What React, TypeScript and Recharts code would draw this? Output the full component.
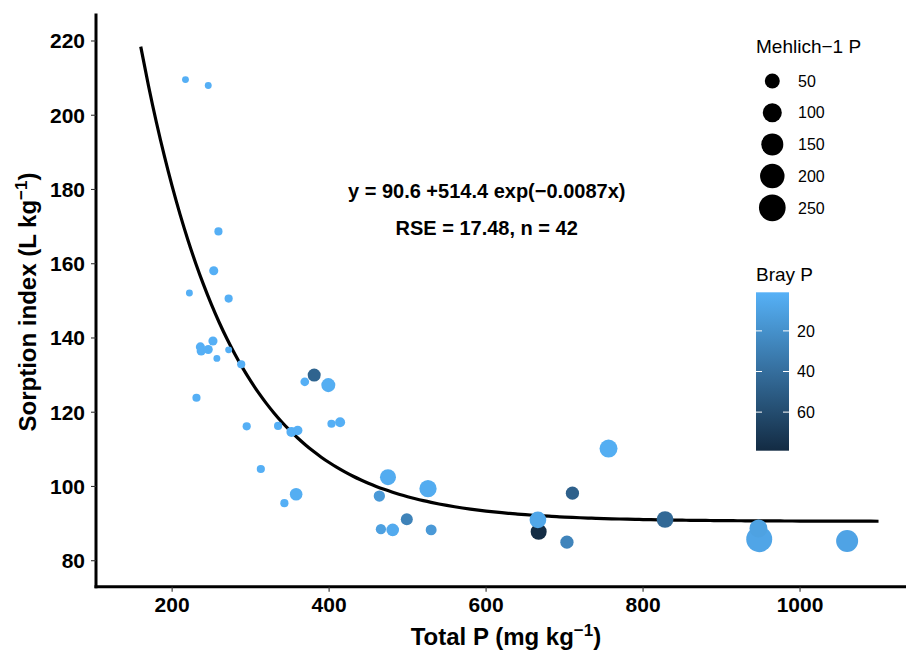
import { ComposedChart, Scatter, Line, XAxis, YAxis } from 'recharts';

const FONT = '"Liberation Sans", Arial, Helvetica, sans-serif';

// soil samples: total P (mg/kg), sorption index (L/kg), Mehlich-1 P, Bray P
const totalP = [
  217, 246, 259, 253, 222, 272, 236, 237, 246, 252, 257, 272, 288, 231,
  295, 335, 352, 360, 313, 343, 358, 381, 369, 399, 403, 414, 475, 464,
  526, 499, 466, 481, 530, 667, 666, 703, 710, 756, 828, 948, 947, 1060,
];
const sorption = [
  209.6, 208.0, 168.7, 158.1, 152.1, 150.6, 137.6, 136.5, 136.9, 139.2, 134.5, 136.8, 132.9, 123.9,
  116.2, 116.3, 114.7, 115.1, 104.7, 95.5, 97.9, 130.0, 128.2, 127.3, 116.9, 117.3, 102.5, 97.4,
  99.4, 91.2, 88.5, 88.3, 88.3, 87.8, 91.0, 85.0, 98.2, 110.2, 91.1, 85.8, 88.7, 85.3,
];
const mehlich1 = [
  10, 10, 11, 13, 10, 11, 13, 13, 13, 13, 10, 10, 11, 11,
  11, 11, 16, 14, 11, 11, 30, 33, 12, 41, 11, 16, 61, 22,
  76, 26, 17, 30, 20, 61, 69, 35, 35, 85, 69, 233, 85, 150,
];
const brayP = [
  2, 2, 2, 2, 2, 2, 2, 2, 2, 2, 2, 2, 2, 2,
  2, 2, 2, 2, 2, 2, 3, 46, 2, 3, 2, 2, 4, 15,
  4, 28, 11, 5, 15, 78, 7, 27, 48, 3, 43, 8, 10, 9,
];

// fitted model y = a + b * exp(-k x)
const FIT_A = 90.6;
const FIT_B = 514.4;
const FIT_K = 0.0087;
const FIT_FROM = 160;
const FIT_TO = 1100;

const xTicks = [200, 400, 600, 800, 1000];
const yTicks = [80, 100, 120, 140, 160, 180, 200, 220];
const sizeBreaks = [50, 100, 150, 200, 250];
const brayBreaks = [20, 40, 60];
const BRAY_MIN = 1;
const BRAY_MAX = 79;

const points = totalP.map((x, i) => ({
  x,
  y: sorption[i],
  mehlich: mehlich1[i],
  bray: brayP[i],
}));

const curve: { x: number; y: number }[] = [];
for (let x = FIT_FROM; x <= FIT_TO; x += 10) {
  curve.push({ x, y: FIT_A + FIT_B * Math.exp(-FIT_K * x) });
}

// ggplot-like area scale for point size
const radius = (v: number) => (6.9 + 1.2776 * Math.sqrt(Math.max(v - 10, 0))) / 2;

const LIGHT = [0x56, 0xb1, 0xf7];
const DARK = [0x13, 0x2b, 0x43];
const brayColor = (v: number) => {
  const t = Math.min(1, Math.max(0, (v - BRAY_MIN) / (BRAY_MAX - BRAY_MIN)));
  const c = LIGHT.map((l, i) => Math.round(l + (DARK[i] - l) * t));
  return `rgb(${c[0]},${c[1]},${c[2]})`;
};

const Bubble = (props: any) => {
  const { cx, cy, payload } = props;
  if (cx == null || cy == null) return <g />;
  return <circle cx={cx} cy={cy} r={radius(payload.mehlich)} fill={brayColor(payload.bray)} />;
};

// colour bar geometry
const BAR_X = 756;
const BAR_Y = 292.3;
const BAR_W = 33;
const BAR_H = 158.4;
const barY = (v: number) => BAR_Y + ((v - BRAY_MIN) / (BRAY_MAX - BRAY_MIN)) * BAR_H;

const axisText = { fill: '#000', fontSize: 21, fontWeight: 700, fontFamily: FONT };
const axisLine = { stroke: '#000', strokeWidth: 3, strokeLinecap: 'square' as const };
const tickLine = { stroke: '#333', strokeWidth: 1.1 };

export default function App() {
  return (
    <div style={{ position: 'relative', width: 906, height: 650, background: '#fff' }}>
      <style>{'body{margin:0}'}</style>
      <ComposedChart
        width={906}
        height={650}
        margin={{ top: 15, right: 0, bottom: 13.3, left: 0 }}
      >
        <XAxis
          type="number"
          dataKey="x"
          domain={[103, 1135]}
          allowDataOverflow
          ticks={xTicks}
          tick={axisText}
          tickSize={5}
          tickMargin={5}
          axisLine={axisLine}
          tickLine={tickLine}
          height={50}
        />
        <YAxis
          type="number"
          dataKey="y"
          domain={[73, 227]}
          allowDataOverflow
          ticks={yTicks}
          tick={axisText}
          tickSize={5}
          tickMargin={6}
          axisLine={axisLine}
          tickLine={tickLine}
          width={96}
        />
        <Line
          data={curve}
          dataKey="y"
          type="monotone"
          dot={false}
          stroke="#000"
          strokeWidth={3.2}
          isAnimationActive={false}
        />
        <Scatter data={points} shape={<Bubble />} isAnimationActive={false} />
      </ComposedChart>

      <svg
        width={906}
        height={650}
        style={{ position: 'absolute', left: 0, top: 0, pointerEvents: 'none' }}
        fontFamily={FONT}
      >
        <defs>
          <linearGradient id="brayGrad" x1="0" y1="0" x2="0" y2="1">
            {[0, 0.25, 0.5, 0.75, 1].map((t) => (
              <stop
                key={t}
                offset={t}
                stopColor={brayColor(BRAY_MIN + t * (BRAY_MAX - BRAY_MIN))}
              />
            ))}
          </linearGradient>
        </defs>

        {/* axis titles */}
        <text
          x={36}
          y={302}
          transform="rotate(-90 36 302)"
          textAnchor="middle"
          fontSize={24}
          fontWeight={700}
          fill="#000"
        >
          Sorption index (L kg<tspan dy={-9} fontSize={17}>−1</tspan>
          <tspan dy={9}>)</tspan>
        </text>
        <text x={506} y={645} textAnchor="middle" fontSize={24} fontWeight={700} fill="#000">
          Total P (mg kg<tspan dy={-9} fontSize={17}>−1</tspan>
          <tspan dy={9}>)</tspan>
        </text>

        {/* model annotation */}
        <text x={486.7} y={198} textAnchor="middle" fontSize={20} fontWeight={700} fill="#000">
          y = 90.6 +514.4 exp(−0.0087x)
        </text>
        <text x={486.7} y={235} textAnchor="middle" fontSize={20} fontWeight={700} fill="#000">
          RSE = 17.48, n = 42
        </text>

        {/* size legend */}
        <text x={756} y={53} fontSize={19} fill="#000">Mehlich−1 P</text>
        {sizeBreaks.map((v, i) => {
          const cy = 81 + i * 31.7;
          return (
            <g key={v}>
              <circle cx={772.3} cy={cy} r={radius(v)} fill="#000" />
              <text x={798} y={cy + 5.7} fontSize={16} fill="#000">{v}</text>
            </g>
          );
        })}

        {/* colour legend */}
        <text x={756} y={280.5} fontSize={19} fill="#000">Bray P</text>
        <rect x={BAR_X} y={BAR_Y} width={BAR_W} height={BAR_H} fill="url(#brayGrad)" />
        {brayBreaks.map((v) => {
          const y = barY(v);
          return (
            <g key={v}>
              <line x1={BAR_X} x2={BAR_X + 6} y1={y} y2={y} stroke="#fff" strokeWidth={1} />
              <line x1={BAR_X + BAR_W - 6} x2={BAR_X + BAR_W} y1={y} y2={y} stroke="#fff" strokeWidth={1} />
              <text x={797} y={y + 5.7} fontSize={16} fill="#000">{v}</text>
            </g>
          );
        })}
      </svg>
    </div>
  );
}
